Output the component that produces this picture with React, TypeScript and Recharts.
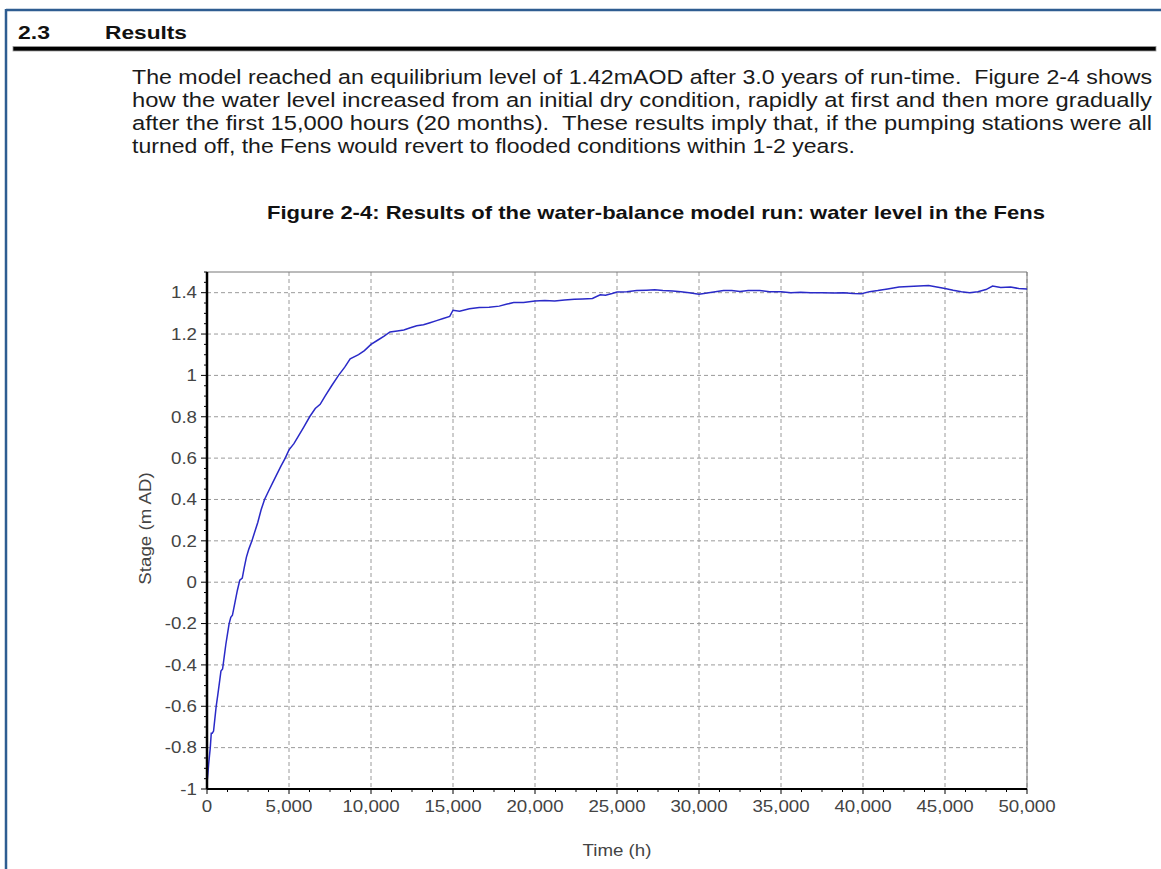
import React from 'react';
import { LineChart, Line, XAxis, YAxis, CartesianGrid, ReferenceLine, Label } from 'recharts';

// ---- Data ----
const times: number[] = [
  0, 50, 100, 150, 200, 260, 320, 400, 480, 560, 650, 750, 850, 950, 1050, 1150, 1250, 1350, 1450, 1550,
  1700, 1850, 2000, 2150, 2270, 2400, 2550, 2740, 2900, 3100, 3300, 3510, 3750, 4000, 4250, 4500, 4770,
  5000, 5300, 5600, 5900, 6260, 6600, 6900, 7200, 7600, 8020, 8400, 8730, 9240, 9600, 10000, 10400, 10800,
  11160, 11600, 12000, 12400, 12790, 13200, 13600, 14000, 14400, 14800, 15000, 15400, 16000, 16600, 17200,
  17820, 18300, 18700, 19300, 20000, 20600, 21200, 21800, 22400, 22900, 23500, 23980, 24300, 24700, 25000,
  25600, 26200, 26800, 27300, 27800, 28400, 28900, 29400, 30000, 30500, 31000, 31500, 32000, 32500, 33000,
  33700, 34300, 35000, 35600, 36200, 36800, 37500, 38200, 38800, 39400, 39900, 40400, 40900, 41500, 42200,
  42800, 43400, 44000, 44500, 45000, 45500, 46000, 46500, 47000, 47500, 47900, 48400, 49000, 49500, 50000,
];
const stages: number[] = [
  -0.97, -0.93, -0.88, -0.84, -0.8, -0.73, -0.73, -0.72, -0.66, -0.6, -0.55, -0.49, -0.43, -0.42, -0.36, -0.3, -0.25, -0.2, -0.17, -0.16,
  -0.1, -0.04, 0.01, 0.02, 0.07, 0.12, 0.16, 0.2, 0.24, 0.29, 0.35, 0.4, 0.44, 0.48, 0.52, 0.56, 0.6,
  0.64, 0.67, 0.71, 0.75, 0.8, 0.84, 0.86, 0.9, 0.95, 1.0, 1.04, 1.08, 1.1, 1.12, 1.15, 1.17, 1.19,
  1.21, 1.215, 1.22, 1.23, 1.24, 1.245, 1.255, 1.265, 1.275, 1.285, 1.315, 1.31, 1.322, 1.328, 1.33,
  1.335, 1.345, 1.352, 1.352, 1.36, 1.362, 1.36, 1.365, 1.368, 1.37, 1.372, 1.39, 1.388, 1.396, 1.403,
  1.405, 1.41, 1.412, 1.414, 1.41, 1.408, 1.405, 1.4, 1.393, 1.398, 1.405, 1.41, 1.41, 1.406, 1.41,
  1.41, 1.405, 1.405, 1.4, 1.402, 1.4, 1.4, 1.398, 1.4, 1.396, 1.395, 1.405, 1.41, 1.418, 1.427,
  1.43, 1.432, 1.435, 1.428, 1.42, 1.412, 1.405, 1.4, 1.405, 1.415, 1.432, 1.425, 1.428, 1.42, 1.418,
];

const xMajorTicks: number[] = [0, 5000, 10000, 15000, 20000, 25000, 30000, 35000, 40000, 45000, 50000];
const yMajorTicks: number[] = [-1, -0.8, -0.6, -0.4, -0.2, 0, 0.2, 0.4, 0.6, 0.8, 1, 1.2, 1.4];
const xMinorStep = 1250;
const yMinorStep = 0.05;

const headingNumber = '2.3';
const headingTitle = 'Results';
const paragraphLines: string[] = [
  'The model reached an equilibrium level of 1.42mAOD after 3.0 years of run-time.  Figure 2-4 shows',
  'how the water level increased from an initial dry condition, rapidly at first and then more gradually',
  'after the first 15,000 hours (20 months).  These results imply that, if the pumping stations were all',
  'turned off, the Fens would revert to flooded conditions within 1-2 years.',
];
const paragraphWidths: number[] = [1020, 1020, 1020, 723];
const figureTitle = 'Figure 2-4: Results of the water-balance model run: water level in the Fens';
const xAxisTitle = 'Time (h)';
const yAxisTitle = 'Stage (m AD)';

const data = times.map((t, i) => ({ time: t, stage: stages[i] }));

const xAllTicks: number[] = [];
for (let v = 0; v <= 50000; v += xMinorStep) xAllTicks.push(v);
const yAllTicks: number[] = [];
for (let i = 0; i <= 50; i++) yAllTicks.push(Math.round((-1 + i * yMinorStep) * 100) / 100);

const isMajor = (v: number, list: number[]) => list.some((m) => Math.abs(m - v) < 1e-6);
const fmtY = (v: number) => String(Math.round(v * 10) / 10);
const fmtX = (v: number) => v.toLocaleString('en-US');

const FONT = '"Liberation Sans", Arial, sans-serif';
const TICK_FS = 16;
const STRETCH = 1.17;

const XTick = (props: any) => {
  const { x, y, payload } = props;
  const v = payload.value as number;
  const major = isMajor(v, xMajorTicks);
  return (
    <g>
      <line x1={x} x2={x} y1={y} y2={y + (major ? 5 : 3)} stroke="#000" strokeWidth={1} />
      {major && (
        <text
          transform={`translate(${x},${y + 12}) scale(${STRETCH},1)`}
          textAnchor="middle"
          dy="0.71em"
          fontSize={TICK_FS}
          fontFamily={FONT}
          fill="#444"
        >
          {fmtX(v)}
        </text>
      )}
    </g>
  );
};

const YTick = (props: any) => {
  const { x, y, payload } = props;
  const v = payload.value as number;
  const major = isMajor(v, yMajorTicks);
  return (
    <g>
      <line x1={x - (major ? 6 : 3)} x2={x} y1={y} y2={y} stroke="#000" strokeWidth={1} />
      {major && (
        <text
          transform={`translate(${x - 10},${y}) scale(${STRETCH},1)`}
          textAnchor="end"
          dy="0.36em"
          fontSize={TICK_FS}
          fontFamily={FONT}
          fill="#444"
        >
          {fmtY(v)}
        </text>
      )}
    </g>
  );
};

const YTitle = (props: any) => {
  const vb = props.viewBox || { x: 83, y: 272, width: 124, height: 517 };
  const cx = vb.x + vb.width / 2;
  const cy = vb.y + vb.height / 2 - 2;
  return (
    <text
      transform={`translate(${cx},${cy}) rotate(-90) scale(${STRETCH},1)`}
      textAnchor="middle"
      dy="0.36em"
      fontSize={TICK_FS}
      fontFamily={FONT}
      fill="#444"
    >
      {yAxisTitle}
    </text>
  );
};

const XTitle = (props: any) => {
  const vb = props.viewBox || { x: 207, y: 789, width: 820, height: 70 };
  const cx = vb.x + vb.width / 2;
  const by = vb.y + 67;
  return (
    <text
      transform={`translate(${cx},${by}) scale(${STRETCH},1)`}
      textAnchor="middle"
      fontSize={TICK_FS}
      fontFamily={FONT}
      fill="#444"
    >
      {xAxisTitle}
    </text>
  );
};

export default function App() {
  return (
    <div style={{ position: 'absolute', left: 0, top: 0, width: 1161, height: 869, background: '#fff', overflow: 'hidden' }}>
      <svg width={1161} height={869} style={{ position: 'absolute', left: 0, top: 0 }} fontFamily={FONT}>
        <line x1={6} y1={10} x2={1161} y2={10} stroke="#2e5d91" strokeWidth={2.5} />
        <line x1={6} y1={9} x2={6} y2={869} stroke="#2e5d91" strokeWidth={2.5} />
        <text x={18} y={39} fontSize={19} fontWeight="bold" fill="#111" textLength={32} lengthAdjust="spacingAndGlyphs">
          {headingNumber}
        </text>
        <text x={105} y={39} fontSize={19} fontWeight="bold" fill="#111" textLength={82} lengthAdjust="spacingAndGlyphs">
          {headingTitle}
        </text>
        <rect x={13} y={46.5} width={1143} height={4.5} fill="#000" stroke="#999" strokeWidth={0.8} />
        {paragraphLines.map((line, i) => (
          <text
            key={i}
            x={132}
            y={84 + i * 23}
            fontSize={20.5}
            fill="#1a1a1a"
            textLength={paragraphWidths[i]}
            lengthAdjust="spacingAndGlyphs"
            style={{ whiteSpace: 'pre' }}
          >
            {line}
          </text>
        ))}
        <text x={267} y={219} fontSize={19} fontWeight="bold" fill="#111" textLength={778} lengthAdjust="spacingAndGlyphs">
          {figureTitle}
        </text>
      </svg>
      <div style={{ position: 'absolute', left: 0, top: 0 }}>
        <LineChart
          width={1161}
          height={869}
          data={data}
          margin={{ top: 272, right: 134, bottom: 10, left: 83 }}
        >
          <CartesianGrid
            stroke="#9a9a9a"
            strokeDasharray="4 3"
            horizontalValues={yMajorTicks}
            verticalValues={xMajorTicks}
          />
          <XAxis
            dataKey="time"
            type="number"
            domain={[0, 50000]}
            ticks={xAllTicks}
            interval={0}
            tickSize={0}
            tickMargin={0}
            tickLine={false}
            tick={<XTick />}
            height={70}
            axisLine={{ stroke: '#000', strokeWidth: 2 }}
            allowDataOverflow
          >
            <Label content={<XTitle />} />
          </XAxis>
          <YAxis
            type="number"
            domain={[-1, 1.5]}
            ticks={yAllTicks}
            interval={0}
            tickSize={0}
            tickMargin={0}
            tickLine={false}
            tick={<YTick />}
            width={124}
            axisLine={{ stroke: '#000', strokeWidth: 2.5 }}
            allowDataOverflow
          >
            <Label content={<YTitle />} />
          </YAxis>
          <ReferenceLine y={1.5} stroke="#777" strokeWidth={1} />
          <ReferenceLine x={50000} stroke="#777" strokeWidth={1} />
          <Line
            type="linear"
            dataKey="stage"
            stroke="#2a2ac8"
            strokeWidth={1.5}
            dot={false}
            isAnimationActive={false}
          />
        </LineChart>
      </div>
    </div>
  );
}
